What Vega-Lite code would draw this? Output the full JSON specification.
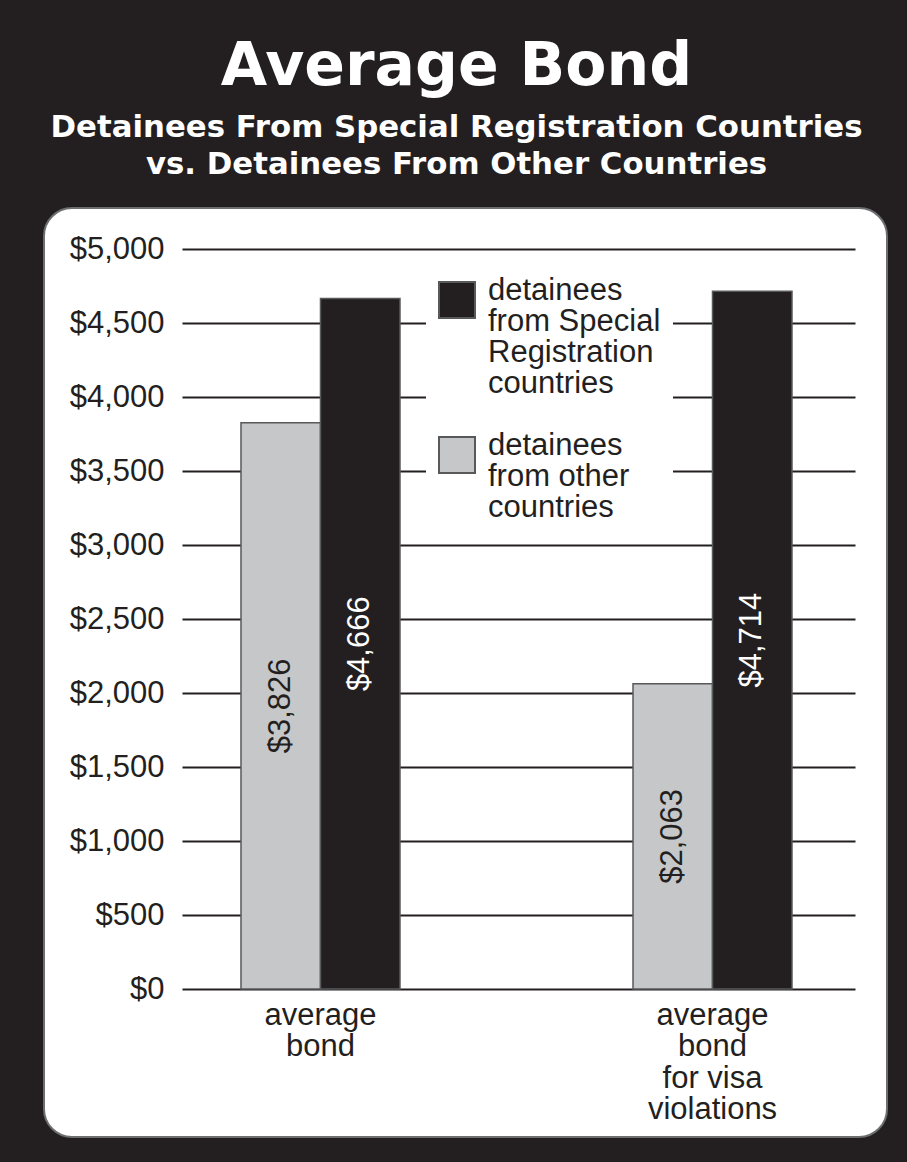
{
  "$schema": "https://vega.github.io/schema/vega-lite/v6.json",
  "width": 843,
  "height": 929,
  "autosize": "none",
  "padding": {"left": 44, "top": 208, "right": 20, "bottom": 25},
  "background": "#231f20",
  "title": {
    "text": "Average Bond",
    "subtitle": ["Detainees From Special Registration Countries", "vs. Detainees From Other Countries"],
    "anchor": "middle",
    "frame": "group",
    "font": "DejaVu Sans",
    "fontWeight": "bold",
    "fontSize": 60,
    "color": "white",
    "subtitleFont": "DejaVu Sans",
    "subtitleFontWeight": "bold",
    "subtitleFontSize": 30.8,
    "subtitleColor": "white",
    "subtitleLineHeight": 37.5,
    "subtitlePadding": 15,
    "offset": 27,
    "dx": -9
  },
  "data": {
    "values": [
      {"category": "average bond", "group": "detainees from other countries", "value": 3826},
      {"category": "average bond", "group": "detainees from Special Registration countries", "value": 4666},
      {"category": "average bond for visa violations", "group": "detainees from other countries", "value": 2063},
      {"category": "average bond for visa violations", "group": "detainees from Special Registration countries", "value": 4714}
    ]
  },
  "layer": [
    {
      "mark": {"type": "bar", "stroke": "#58595b", "strokeWidth": 1.5},
      "encoding": {
        "x": {
          "field": "category",
          "type": "nominal",
          "sort": ["average bond", "average bond for visa violations"],
          "scale": {"range": [138, 811], "paddingInner": 0.5944, "paddingOuter": 0.1556, "align": 0.4836},
          "axis": {
            "orient": "bottom",
            "offset": -148,
            "domain": false,
            "ticks": false,
            "grid": false,
            "title": null,
            "labelPadding": 11,
            "labelFont": "Liberation Sans",
            "labelFontSize": 31,
            "labelColor": "#231f20",
            "labelAngle": 0,
            "labelLineHeight": 31.5,
            "labelLimit": 0,
            "labelExpr": "datum.value === 'average bond' ? ['average', 'bond'] : ['average', 'bond', 'for visa', 'violations']"
          }
        },
        "xOffset": {
          "field": "group",
          "type": "nominal",
          "sort": ["detainees from other countries", "detainees from Special Registration countries"],
          "scale": {"paddingInner": 0, "paddingOuter": 0}
        },
        "y": {
          "field": "value",
          "type": "quantitative",
          "scale": {"domain": [0, 5000], "range": [781, 41], "nice": false, "zero": true},
          "axis": {
            "orient": "left",
            "offset": -138,
            "values": [0, 500, 1000, 1500, 2000, 2500, 3000, 3500, 4000, 4500, 5000],
            "format": "$,.0f",
            "domain": false,
            "ticks": false,
            "title": null,
            "labelPadding": 18,
            "labelFont": "Liberation Sans",
            "labelFontSize": 31,
            "labelColor": "#231f20",
            "grid": true,
            "gridColor": "#231f20",
            "gridWidth": 1.8,
            "gridOpacity": 1
          }
        },
        "color": {
          "field": "group",
          "type": "nominal",
          "scale": {
            "domain": ["detainees from Special Registration countries", "detainees from other countries"],
            "range": ["#231f20", "#c6c7c8"]
          },
          "legend": {
            "title": null,
            "orient": "none",
            "legendX": 382,
            "legendY": 61,
            "padding": 12,
            "fillColor": "white",
            "strokeColor": null,
            "symbolType": "square",
            "symbolSize": 1296,
            "symbolStrokeColor": "#58595b",
            "symbolStrokeWidth": 2,
            "symbolOpacity": 1,
            "labelFont": "Liberation Sans",
            "labelFontSize": 31,
            "labelColor": "#231f20",
            "labelBaseline": "alphabetic",
            "labelOffset": 12,
            "labelLimit": 400,
            "rowPadding": 31,
            "labelExpr": "datum.value === 'detainees from other countries' ? ['detainees', 'from other', 'countries'] : ['detainees', 'from Special', 'Registration', 'countries']",
            "encode": {"labels": {"update": {"lineHeight": {"value": 31}}}}
          }
        }
      }
    },
    {
      "mark": {"type": "text", "angle": 270, "font": "Liberation Sans", "fontSize": 31, "align": "center", "baseline": "middle"},
      "encoding": {
        "x": {"field": "category", "type": "nominal", "sort": ["average bond", "average bond for visa violations"]},
        "xOffset": {"field": "group", "type": "nominal", "sort": ["detainees from other countries", "detainees from Special Registration countries"]},
        "y": {
          "field": "value",
          "type": "quantitative",
          "scale": {"domain": [0, 10000], "range": [781, 41], "nice": false},
          "axis": null
        },
        "text": {"field": "value", "type": "quantitative", "format": "$,.0f"},
        "color": {
          "condition": {"test": "datum.group === 'detainees from other countries'", "value": "#231f20"},
          "value": "white"
        }
      }
    }
  ],
  "resolve": {"scale": {"y": "independent"}},
  "config": {
    "view": {"fill": "white", "stroke": "#6d6e70", "strokeWidth": 2, "cornerRadius": 28}
  }
}
